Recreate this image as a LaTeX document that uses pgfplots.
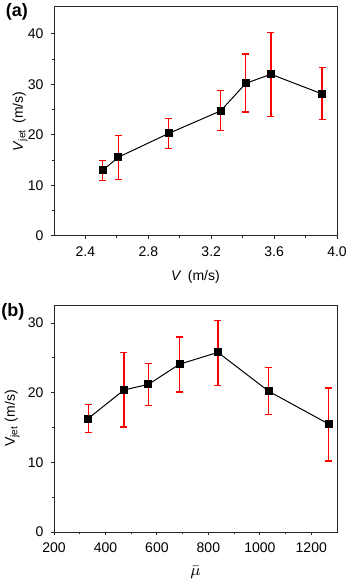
\documentclass[border=0pt]{standalone}
\usepackage{fontspec}
\setmainfont{Liberation Sans}
\usepackage{pgfplots}
\pgfplotsset{compat=1.18}
\tikzset{lbl/.style={font=\fontsize{7}{8}\selectfont, anchor=center}}

\pgfplotsset{panel/.style={
  scale only axis, width=141.5pt, clip=false,
  axis line style={line width=0.5pt, black!85},
  tick align=outside, xtick pos=bottom, ytick pos=left,
  major tick length=1.7pt, minor tick length=1pt,
  every tick/.style={black!85, line width=0.5pt},
  minor tick num=1,
  tick label style={font=\fontsize{7}{8}\selectfont},
  /pgf/number format/assume math mode=true,
  /pgf/number format/1000 sep={},
  ymin=0,
}, dat/.style={black, line width=0.5pt, mark=square*, mark size=1.75pt,
  error bars/.cd, y dir=both, y explicit,
  error bar style={red, line width=0.65pt},
  error mark options={rotate=90, red, mark size=1.75pt, line width=0.65pt}}
}

\begin{document}
\begin{tikzpicture}
% 1 px of the reference = 0.5pt
\useasboundingbox (0,0) rectangle (174.5pt,-291pt);

\begin{axis}[panel, at={(27pt,-118pt)}, anchor=south west, height=114.5pt,
  xmin=2.2, xmax=4.0, ymax=45.3,
  xtick={2.4,2.8,3.2,3.6,4.0}, ytick={0,10,20,30,40},
  xticklabel style={/pgf/number format/.cd, fixed, precision=1, fixed zerofill},
  xlabel={\textit{V}\, (m/s)}, ylabel={\textit{V}\textsubscript{jet}\, (m/s)},
  every axis x label/.style={at={(axis description cs:0.5,-0.18)}, lbl},
  every axis y label/.style={at={(axis description cs:-0.12,0.5)}, rotate=90, lbl}]
\addplot[dat] coordinates {
 (2.51,13.0) += (0,1.9) -= (0,2.0)
 (2.61,15.6) += (0,4.3) -= (0,4.4)
 (2.93,20.3) += (0,3.0) -= (0,3.0)
 (3.26,24.75) += (0,4.05) -= (0,3.85)
 (3.42,30.2) += (0,5.8) -= (0,5.7)
 (3.58,32.0) += (0,8.3) -= (0,8.3)
 (3.905,28.1) += (0,5.2) -= (0,5.1)
};
\node[font=\bfseries\fontsize{9}{10}\selectfont] at (axis description cs:-0.131,0.978) {(a)};
\end{axis}

\begin{axis}[panel, at={(27pt,-266pt)}, anchor=south west, height=113.5pt,
  xmin=200, xmax=1300, ymax=32.6,
  xtick={200,400,...,1200}, ytick={0,10,20,30},
  xlabel={$\bar{\mu}$}, ylabel={V\textsubscript{jet} (m/s)},
  every axis x label/.style={at={(axis description cs:0.5,-0.18)}, lbl, font=\fontsize{8.5}{9}\selectfont},
  every axis y label/.style={at={(axis description cs:-0.148,0.5)}, rotate=90, lbl}]
\addplot[dat] coordinates {
 (333,16.3) += (0,2.0) -= (0,2.0)
 (472,20.4) += (0,5.4) -= (0,5.3)
 (567,21.2) += (0,3.0) -= (0,3.0)
 (688,24.1) += (0,3.9) -= (0,4.0)
 (837,25.8) += (0,4.6) -= (0,4.8)
 (1035,20.2) += (0,3.4) -= (0,3.3)
 (1268,15.5) += (0,5.2) -= (0,5.3)
};
\node[font=\bfseries\fontsize{9}{10}\selectfont] at (axis description cs:-0.145,0.969) {(b)};
\end{axis}
\end{tikzpicture}
\end{document}
